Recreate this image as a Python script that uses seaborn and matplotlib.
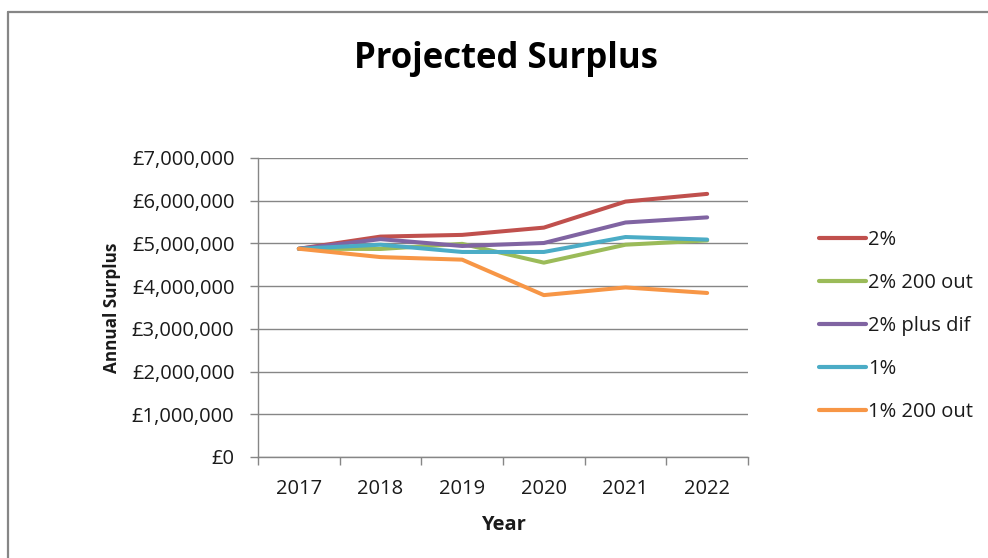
import matplotlib
matplotlib.use("Agg")
import matplotlib.pyplot as plt
from matplotlib.lines import Line2D
from matplotlib.ticker import FuncFormatter, FixedLocator
import seaborn as sns
import pandas as pd

years = ["2017", "2018", "2019", "2020", "2021", "2022"]
scenarios = ["2%", "2% 200 out", "2% plus dif", "1%", "1% 200 out"]
surplus_2pct = [4875000, 5160000, 5200000, 5370000, 5980000, 6160000]
surplus_2pct_200_out = [4875000, 4870000, 4990000, 4550000, 4970000, 5070000]
surplus_2pct_plus_dif = [4875000, 5100000, 4940000, 5010000, 5490000, 5610000]
surplus_1pct = [4875000, 4970000, 4800000, 4800000, 5150000, 5090000]
surplus_1pct_200_out = [4875000, 4680000, 4620000, 3790000, 3970000, 3840000]
y_ticks = [0, 1000000, 2000000, 3000000, 4000000, 5000000, 6000000, 7000000]

series = [surplus_2pct, surplus_2pct_200_out, surplus_2pct_plus_dif,
          surplus_1pct, surplus_1pct_200_out]
colors = ["#C0504D", "#9BBB59", "#8064A2", "#4BACC6", "#F79646"]

df = pd.DataFrame({
    "Year": years * len(scenarios),
    "Surplus": [v for s in series for v in s],
    "Scenario": [name for name in scenarios for _ in years],
})

sns.set_theme(style="white")
plt.rcParams["font.family"] = ["Open Sans", "DejaVu Sans"]
grid_grey = "#868686"
text_col = "#1a1a1a"

fig = plt.figure(figsize=(9.88, 5.58), dpi=100)
ax = fig.add_axes([258 / 988, 1 - 457 / 558, 490 / 988, 299 / 558])

sns.lineplot(data=df, x="Year", y="Surplus", hue="Scenario",
             hue_order=scenarios, palette=colors, sort=False,
             linewidth=2.9, legend=False, ax=ax)

ax.set_xlim(-0.5, len(years) - 0.5)
ax.set_ylim(0, 7000000)
ax.set_yticks(y_ticks)
ax.yaxis.set_major_formatter(FuncFormatter(lambda v, p: f"£{int(v):,}"))
ax.yaxis.grid(True, color=grid_grey, linewidth=1)
ax.set_axisbelow(True)

ax.xaxis.set_minor_locator(FixedLocator([i - 0.5 for i in range(len(years) + 1)]))
ax.tick_params(axis="x", which="major", length=0, pad=16, labelsize=14.5,
               colors=text_col)
ax.tick_params(axis="x", which="minor", length=6, width=1, color=grid_grey,
               direction="out", bottom=True)
ax.tick_params(axis="y", length=6, width=1, color=grid_grey, direction="out",
               left=True, pad=11, labelsize=14.5, labelcolor=text_col)

for side in ("top", "right"):
    ax.spines[side].set_visible(False)
for side in ("left", "bottom"):
    ax.spines[side].set_color(grid_grey)
    ax.spines[side].set_linewidth(1)

ax.set_xlabel("Year", fontsize=14.5, fontweight="bold", labelpad=11,
              color=text_col)
ax.set_ylabel("Annual Surplus", fontsize=12.3, fontweight="bold", labelpad=8,
              color=text_col)

fig.text(506 / 988, 1 - 59 / 558, "Projected Surplus", ha="center", va="center",
         fontsize=25, fontweight="bold", color="#000000")

handles = [Line2D([], [], color=c, linewidth=3) for c in colors]
fig.legend(handles, scenarios, loc="center left",
           bbox_to_anchor=(819 / 988, 1 - 326 / 558), frameon=False,
           fontsize=14.5, handlelength=2.35, handletextpad=0.1,
           labelspacing=1.14, borderpad=0, borderaxespad=0,
           labelcolor=text_col)

# chart frame: left and top edges
fig.add_artist(Line2D([8 / 988, 8 / 988], [0, 1 - 12 / 558],
                      color=grid_grey, linewidth=1.6))
fig.add_artist(Line2D([8 / 988, 1], [1 - 12 / 558, 1 - 12 / 558],
                      color=grid_grey, linewidth=1.6))

fig.savefig("out.png", dpi=100)
